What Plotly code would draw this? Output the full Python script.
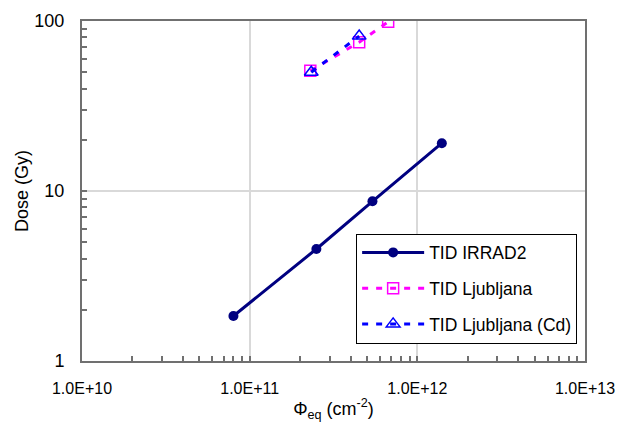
import plotly.graph_objects as go

# Fluence (cm^-2) and total ionising dose (Gy)
irrad2_fluence = [8.0e10, 2.5e11, 5.4e11, 1.4e12]
irrad2_dose = [1.84, 4.56, 8.7, 19.1]

ljub_fluence = [2.3e11, 4.5e11, 6.7e11]
ljub_dose = [51.0, 75.0, 99.0]

ljub_cd_fluence = [2.33e11, 4.5e11]
ljub_cd_dose = [50.0, 81.5]

x_ticks = [1e10, 1e11, 1e12, 1e13]
x_tick_text = ["1.0E+10", "1.0E+11", "1.0E+12", "1.0E+13"]
y_ticks = [1, 10, 100]
y_tick_text = ["1", "10", "100"]

FONT = "Liberation Sans"

fig = go.Figure()
fig.add_trace(go.Scatter(
    x=irrad2_fluence, y=irrad2_dose, mode="lines+markers", name="TID IRRAD2",
    legendgroup="a",
    line=dict(color="#000080", width=3),
    marker=dict(symbol="circle", size=10, color="#000080"),
))
fig.add_trace(go.Scatter(
    x=ljub_fluence, y=ljub_dose, mode="lines+markers", name="TID Ljubljana",
    legendgroup="b",
    line=dict(color="#FF00FF", width=3, dash="6px,8px"),
    marker=dict(symbol="square-open", size=11, color="#FF00FF", line=dict(width=1.5)),
))
fig.add_trace(go.Scatter(
    x=ljub_cd_fluence, y=ljub_cd_dose, mode="lines+markers", name="TID Ljubljana (Cd)",
    legendgroup="c",
    line=dict(color="#0000FF", width=3, dash="6px,8px"),
    marker=dict(symbol="triangle-up-open", size=12, color="#0000FF", line=dict(width=1.5)),
))

minor_x = [m * 10 ** e for e in (10, 11, 12) for m in range(2, 10)]
minor_y = [m * 10 ** e for e in (0, 1) for m in range(2, 10)]

axis_common = dict(
    type="log",
    showline=True, linecolor="#707070", linewidth=2, mirror=True,
    showgrid=True, gridcolor="#D9D9D9", gridwidth=1.5,
    ticks="inside", ticklen=5, tickcolor="#707070", tickwidth=1.5,
    zeroline=False,
)

fig.update_xaxes(
    **axis_common,
    range=[10, 13],
    tickmode="array", tickvals=x_ticks, ticktext=x_tick_text,
    tickfont=dict(family=FONT, size=16, color="black"),
    ticklabelstandoff=12,
    minor=dict(tickmode="array", tickvals=minor_x, ticks="inside", ticklen=5,
               tickcolor="#707070", tickwidth=1.5, showgrid=False),
    title=dict(text="Φ<sub>eq</sub> (cm<sup>-2</sup>)",
               font=dict(family=FONT, size=18, color="black"), standoff=6),
)
fig.update_yaxes(
    **axis_common,
    range=[0, 2],
    tickmode="array", tickvals=y_ticks, ticktext=y_tick_text,
    tickfont=dict(family=FONT, size=18, color="black"),
    ticklabelstandoff=12,
    minor=dict(tickmode="array", tickvals=minor_y, ticks="inside", ticklen=5,
               tickcolor="#707070", tickwidth=1.5, showgrid=False),
    title=dict(text="Dose (Gy)", font=dict(family=FONT, size=18, color="black"),
               standoff=1),
)

fig.update_layout(
    width=627, height=436,
    margin=dict(l=82, r=42, t=21, b=75),
    paper_bgcolor="white", plot_bgcolor="white",
    showlegend=True,
    legend=dict(
        x=0.545, y=0.375, xanchor="left", yanchor="top",
        bgcolor="white", bordercolor="black", borderwidth=1,
        font=dict(family=FONT, size=17.5, color="black"),
        tracegroupgap=10, itemwidth=62,
    ),
    font=dict(family=FONT),
)

fig.write_html("out.html")
